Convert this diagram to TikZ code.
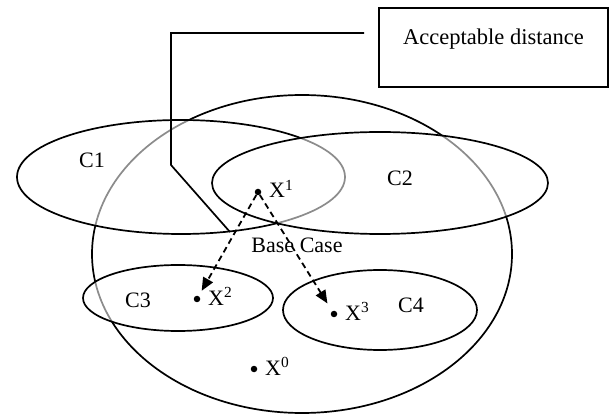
\documentclass[tikz,border=0pt]{standalone}
\usepackage{fontspec}
\setmainfont{Liberation Serif}
\usetikzlibrary{arrows.meta}
\begin{document}
\begin{tikzpicture}[x=1pt,y=1pt,
  region/.style={draw=black,line width=1.7pt,fill=white,fill opacity=0.55},
  lbl/.style={font=\fontsize{22}{24}\selectfont,inner sep=0pt},
  ptlbl/.style={font=\fontsize{22}{24}\selectfont,inner sep=0pt,anchor=base west},
  dot/.style={circle,fill=black,inner sep=0pt,minimum size=6.5pt},
  dasharrow/.style={line width=1.8pt,dash pattern=on 6pt off 4pt,-{Triangle[length=13pt,width=11pt]}},
  callout/.style={draw=black,line width=1.7pt,minimum width=229pt,minimum height=79pt,
    font=\fontsize{22.5}{24}\selectfont,text depth=22pt,inner sep=0pt},
  leader/.style={line width=1.7pt}]
\useasboundingbox (0,0) rectangle (610,415);
% regions, drawn in layering order
\path[region] (302,161) ellipse [x radius=210,y radius=159];
\path[region] (181,238) ellipse [x radius=164,y radius=57];
\path[region] (380,232) ellipse [x radius=168,y radius=51];
\path[region] (178,117) ellipse [x radius=95,y radius=33];
\path[region] (380,105) ellipse [x radius=97,y radius=40];
% callout box and its leader line
\node[callout] (box) at (493.5,367.5) {Acceptable distance};
\coordinate (l0) at (364,382);
\coordinate (l1) at (171,382);
\coordinate (l2) at (171,250);
\coordinate (l3) at (230,183);
\draw[leader] (l0) -- (l1) -- (l2) -- (l3);
% labels
\node[lbl] (c1) at (92,255) {C1};
\node[lbl] (c2) at (400,237) {C2};
\node[lbl] (c3) at (138,115) {C3};
\node[lbl] (c4) at (411,110) {C4};
\node[lbl] (base) at (297,170) {Base Case};
% points
\node[dot] (d1) at (258,223) {};
\node[dot] (d2) at (197,116) {};
\node[dot] (d3) at (334,101) {};
\node[dot] (d0) at (254,46) {};
\node[ptlbl] (x1) at (269,217) {X\textsuperscript{1}};
\node[ptlbl] (x2) at (208,110) {X\textsuperscript{2}};
\node[ptlbl] (x3) at (345,95) {X\textsuperscript{3}};
\node[ptlbl] (x0) at (265,40) {X\textsuperscript{0}};
% arrows
\draw[dasharrow,shorten >=6pt] (d1) -- (d2);
\draw[dasharrow,shorten >=9pt] (d1) -- (d3);
\end{tikzpicture}
\end{document}
